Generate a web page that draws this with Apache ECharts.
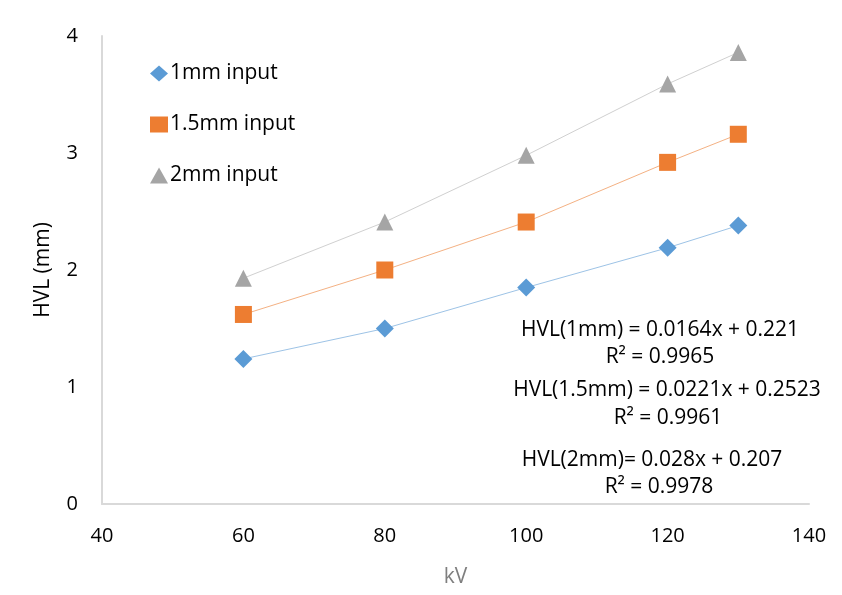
<!DOCTYPE html>
<html>
<head>
<meta charset="utf-8">
<script src="https://cdn.jsdelivr.net/npm/echarts@6/dist/echarts.min.js"></script>
<style>
  html, body { margin: 0; padding: 0; background: #fff; }
  #main { width: 842px; height: 595px; }
</style>
</head>
<body>
<div id="main"></div>
<script>
// data
var kv = [60, 80, 100, 120, 130];
var hvl1mm = [1.24, 1.50, 1.85, 2.19, 2.38];
var hvl15mm = [1.62, 2.00, 2.41, 2.92, 3.16];
var hvl2mm = [1.93, 2.41, 2.98, 3.59, 3.86];
var seriesNames = ['1mm input', '1.5mm input', '2mm input'];
var fitTexts = [
  'HVL(1mm) = 0.0164x + 0.221', 'R² = 0.9965',
  'HVL(1.5mm) = 0.0221x + 0.2523', 'R² = 0.9961',
  'HVL(2mm)= 0.028x + 0.207', 'R² = 0.9978'
];

var font = 'Open Sans';

function pairs(ys) {
  return kv.map(function (x, i) { return [x, ys[i]]; });
}

function makeSeries(name, ys, symbol, size, color, lineColor) {
  return {
    name: name,
    type: 'line',
    data: pairs(ys),
    symbol: symbol,
    symbolSize: size,
    showSymbol: true,
    itemStyle: { color: color },
    lineStyle: { color: lineColor, width: 1 },
    animation: false,
    z: 3
  };
}

// equation labels (centre x / y in px)
var fitX = [660, 660, 667, 668, 652, 659];
var fitY = [330, 357, 390, 418, 460, 487];
var graphics = fitTexts.map(function (t, i) {
  return {
    type: 'text',
    style: {
      text: t,
      x: fitX[i],
      y: fitY[i],
      fill: '#000',
      font: '21px "' + font + '"',
      textAlign: 'center',
      textVerticalAlign: 'middle'
    }
  };
});

var chart = echarts.init(document.getElementById('main'), null, { renderer: 'canvas' });

var option = {
  backgroundColor: '#fff',
  animation: false,
  textStyle: { fontFamily: font },
  grid: { left: 102, right: 33, top: 36, bottom: 91, containLabel: false },
  legend: {
    orient: 'vertical',
    left: 145,
    top: 58,
    itemGap: 30,
    itemWidth: 18,
    itemHeight: 16,
    data: [
      { name: seriesNames[0], icon: 'diamond' },
      { name: seriesNames[1], icon: 'rect' },
      { name: seriesNames[2], icon: 'triangle' }
    ],
    textStyle: { fontSize: 21, color: '#000', fontFamily: font, padding: [0, 0, 0, -3] }
  },
  xAxis: {
    type: 'value',
    min: 40,
    max: 140,
    interval: 20,
    name: 'kV',
    nameLocation: 'middle',
    nameGap: 63,
    nameTextStyle: { fontSize: 21, color: '#7f7f7f', fontFamily: font },
    axisLine: { show: true, lineStyle: { color: '#d9d9d9', width: 2 } },
    axisTick: { show: false },
    splitLine: { show: false },
    axisLabel: { fontSize: 20, color: '#000', margin: 22, fontFamily: font }
  },
  yAxis: {
    type: 'value',
    min: 0,
    max: 4,
    interval: 1,
    name: 'HVL (mm)',
    nameLocation: 'middle',
    nameGap: 48,
    nameRotate: 90,
    nameTextStyle: { fontSize: 21, color: '#000', fontFamily: font },
    axisLine: { show: true, lineStyle: { color: '#d9d9d9', width: 2 } },
    axisTick: { show: false },
    splitLine: { show: false },
    axisLabel: { fontSize: 20, color: '#000', margin: 24, fontFamily: font }
  },
  series: [
    makeSeries(seriesNames[0], hvl1mm, 'diamond', 18, '#5b9bd5', '#9dc3e6'),
    makeSeries(seriesNames[1], hvl15mm, 'rect', 17, '#ed7d31', '#f4b183'),
    makeSeries(seriesNames[2], hvl2mm, 'triangle', 17, '#a5a5a5', '#d0d0d0')
  ],
  graphic: graphics
};

chart.setOption(option);
</script>
</body>
</html>
